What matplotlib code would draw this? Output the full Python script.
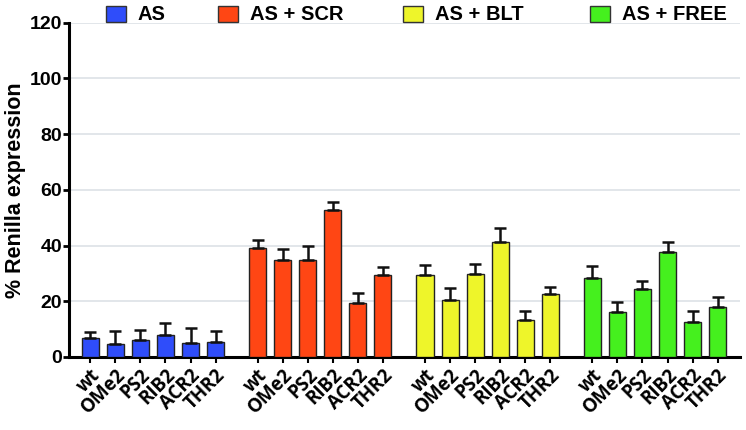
import numpy as np
import matplotlib.pyplot as plt
from matplotlib.patches import Rectangle

plt.rcParams['font.family'] = ['Liberation Sans', 'DejaVu Sans']

# Data
constructs = ['wt', 'OMe2', 'PS2', 'RIB2', 'ACR2', 'THR2']
groups = ['AS', 'AS + SCR', 'AS + BLT', 'AS + FREE']
colors = ['#2f4dfa', '#ff4614', '#eef52a', '#45f01e']

as_mean = [6.8, 4.7, 6.0, 7.9, 4.9, 5.5]
as_err = [2.2, 4.7, 3.7, 4.2, 5.4, 3.8]
scr_mean = [39.0, 34.8, 34.8, 52.6, 19.4, 29.4]
scr_err = [3.0, 3.8, 5.0, 2.9, 3.6, 3.0]
blt_mean = [29.5, 20.3, 29.8, 41.3, 13.2, 22.7]
blt_err = [3.5, 4.6, 3.6, 5.0, 3.2, 2.4]
free_mean = [28.3, 16.3, 24.3, 37.8, 12.5, 17.8]
free_err = [4.3, 3.4, 2.8, 3.6, 4.0, 3.6]

means = [as_mean, scr_mean, blt_mean, free_mean]
errs = [as_err, scr_err, blt_err, free_err]

W, H = 746, 430
fig = plt.figure(figsize=(W / 100, H / 100), dpi=100)
ax = fig.add_axes([0.0925, 0.170, 0.899, 0.777])

group_step = len(constructs) + 0.68
xticks = []
xlabels = []
for g in range(len(groups)):
    x = np.arange(len(constructs)) + g * group_step
    ax.bar(x, means[g], width=0.68, color=colors[g], edgecolor='#222222',
           linewidth=1.0, zorder=3)
    ax.errorbar(x, means[g], yerr=[np.zeros(len(x)), errs[g]], fmt='none',
                ecolor='#111111', elinewidth=1.8, capsize=4, capthick=1.8,
                zorder=4)
    xticks.extend(x)
    xlabels.extend(constructs)

ax.set_xlim(-0.85, 3 * group_step + 5 + 0.88)
ax.set_ylim(0, 120)
ax.set_yticks(range(0, 121, 20))
ax.set_xticks(xticks)
ax.set_xticklabels(xlabels, rotation=45, ha='right', rotation_mode='anchor',
                   fontsize=13.5, fontweight='bold', family=['Open Sans', 'DejaVu Sans'])
for lab in ax.get_yticklabels():
    lab.set_fontsize(14)
    lab.set_fontweight('bold')
ax.tick_params(axis='y', width=2, length=4, pad=1)
ax.tick_params(axis='x', width=1.5, length=4, pad=2)
ax.yaxis.grid(True, color='#dde2e6', linewidth=1.2, zorder=0)
ax.set_axisbelow(True)
for side in ['top', 'right']:
    ax.spines[side].set_visible(False)
ax.spines['left'].set_linewidth(2.2)
ax.spines['bottom'].set_linewidth(2.2)
ax.set_ylabel('% Renilla expression', fontsize=15.5, fontweight='bold', labelpad=3)

# legend drawn by hand to match the spacing of the reference
patch_x = [106, 218, 403, 590]
for px, c, name in zip(patch_x, colors, groups):
    fig.patches.append(Rectangle((px / W, 1 - 22 / H), 20 / W, 16 / H,
                                 transform=fig.transFigure, facecolor=c,
                                 edgecolor='#333333', linewidth=1.0))
    fig.text((px + 32) / W, 1 - 14 / H, name, fontsize=14.5, fontweight='bold',
             va='center', ha='left')

fig.savefig('out.png', dpi=100)
